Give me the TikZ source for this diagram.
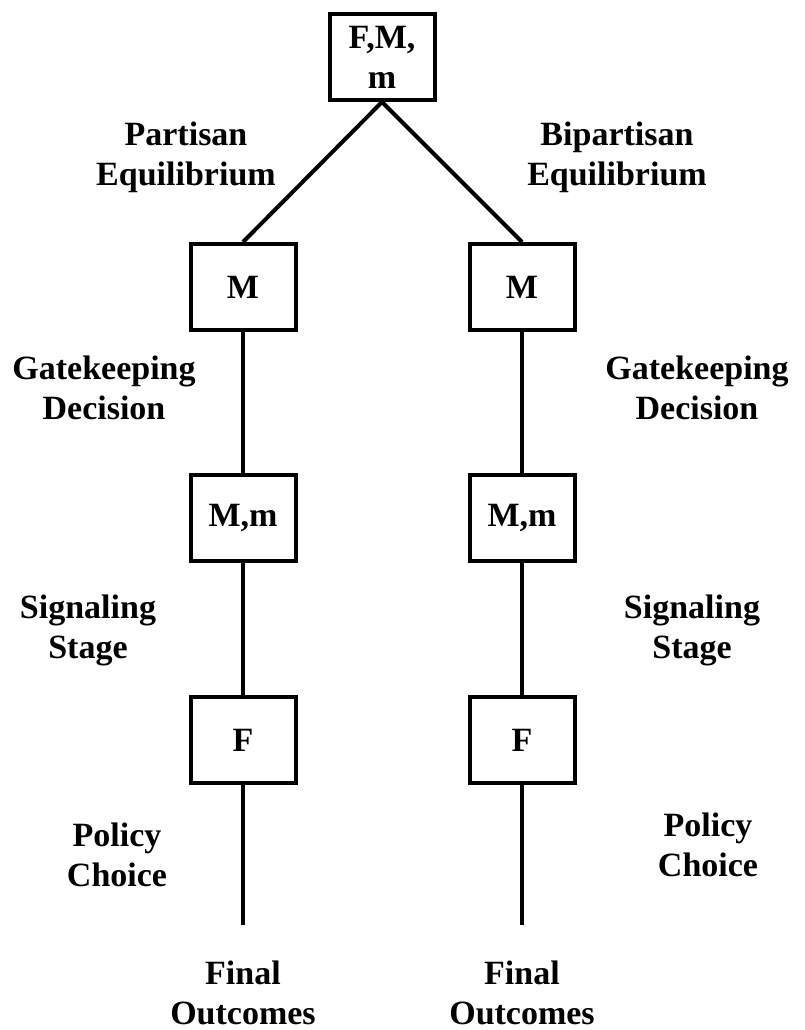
\documentclass[tikz,border=0pt]{standalone}
\usepackage{fontspec}
\setmainfont{Liberation Serif}
\begin{document}
\begin{tikzpicture}[x=1pt,y=-1pt,
  every node/.style={font=\fontsize{34}{40}\selectfont\bfseries},
  gamebox/.style={draw,line width=4pt,minimum width=105pt,minimum height=86pt,inner sep=0pt,align=center},
  lab/.style={align=center,inner sep=0pt},
  edge/.style={line width=4pt}]
\useasboundingbox (0,0) rectangle (805,1030);
\node[gamebox] (top) at (382,57) {F,M,\\m};
\node[gamebox] (m1) at (243,287) {M};
\node[gamebox] (m2) at (522,287) {M};
\node[gamebox] (mm1) at (243,518) {M,m};
\node[gamebox] (mm2) at (522,518) {M,m};
\node[gamebox] (f1) at (243,740) {F};
\node[gamebox] (f2) at (522,740) {F};
\coordinate (e1) at (243,925);
\coordinate (e2) at (522,925);
\draw[edge] (top.south) -- (m1.north);
\draw[edge] (top.south) -- (m2.north);
\draw[edge] (m1) -- (mm1);
\draw[edge] (m2) -- (mm2);
\draw[edge] (mm1) -- (f1);
\draw[edge] (mm2) -- (f2);
\draw[edge] (f1.south) -- (e1);
\draw[edge] (f2.south) -- (e2);
\node[lab] (pe) at (186,157) {Partisan\\Equilibrium};
\node[lab] (be) at (617,157) {Bipartisan\\Equilibrium};
\node[lab] (g1) at (104,388) {Gatekeeping\\Decision};
\node[lab] (g2) at (697,388) {Gatekeeping\\Decision};
\node[lab] (s1) at (88,630) {Signaling\\Stage};
\node[lab] (s2) at (692,630) {Signaling\\Stage};
\node[lab] (p1) at (117,855) {Policy\\Choice};
\node[lab] (p2) at (708,845) {Policy\\Choice};
\node[lab] (o1) at (243,993) {Final\\Outcomes};
\node[lab] (o2) at (522,993) {Final\\Outcomes};
\end{tikzpicture}
\end{document}
